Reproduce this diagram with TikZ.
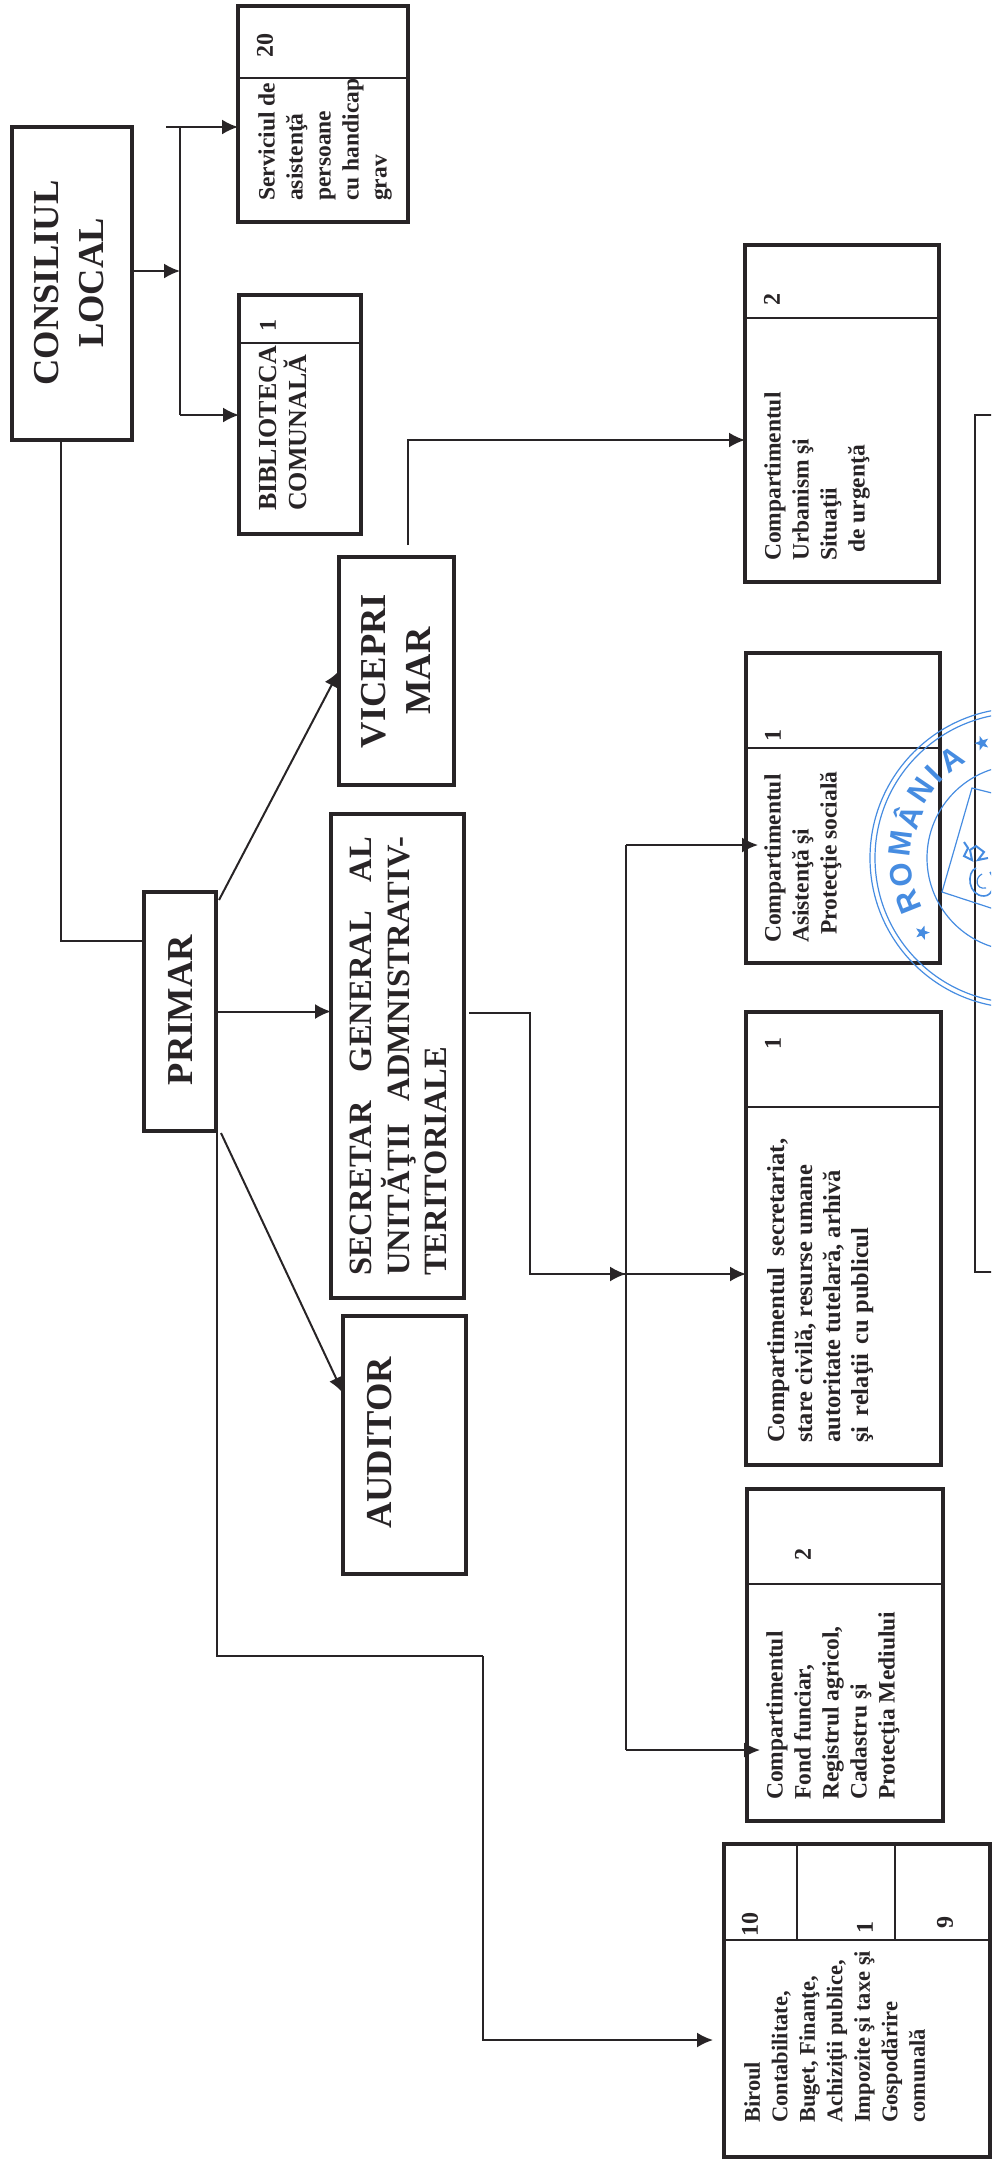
\documentclass[tikz,border=0pt]{standalone}
\usepackage{fontspec}
\setmainfont{Liberation Serif}
\setsansfont{Liberation Sans}
\usetikzlibrary{
  arrows.meta,
  shapes.geometric
}
\definecolor{inkcolor}{RGB}{40,36,38}
\definecolor{stampcolor}{RGB}{70,140,225}
\tikzset{
  unitbox/.style={draw=inkcolor, line width=3.4pt, inner sep=0pt, outer sep=0pt, fill=white},
  titletext/.style={rotate=90, inner sep=0pt, align=center, text=inkcolor, font=\bfseries\fontsize{36.5}{44.5}\selectfont},
  unittext/.style={rotate=90, anchor=north west, inner sep=0pt, align=left, text=inkcolor, font=\bfseries\fontsize{23.5}{28}\selectfont},
  countlabel/.style={rotate=90, inner sep=0pt, text=inkcolor, font=\bfseries\fontsize{24}{27}\selectfont},
  conn/.style={draw=inkcolor, line width=2pt, -{Latex[length=16pt,width=15pt]}},
  plainline/.style={draw=inkcolor, line width=2pt},
  divline/.style={draw=inkcolor, line width=1.6pt},
  stampline/.style={draw=stampcolor, line width=1.2pt},
  stampletter/.style={inner sep=0pt, text=stampcolor, font=\sffamily\bfseries\fontsize{31}{31}\selectfont}
}

\begin{document}
\begin{tikzpicture}[x=1pt, y=-1pt]
  \useasboundingbox (0,0) rectangle (991,2161);

  % boxes
  \node[unitbox, minimum width=120pt, minimum height=313pt] (consiliu) at (72,283.5) {};
  \node[unitbox, minimum width=170pt, minimum height=216pt] (serviciu) at (323,114) {};
  \node[unitbox, minimum width=122pt, minimum height=239pt] (biblioteca) at (300,414.5) {};
  \node[unitbox, minimum width=194pt, minimum height=337pt] (urbanism) at (842,413.5) {};
  \node[unitbox, minimum width=115pt, minimum height=228pt] (vice) at (396.5,671) {};
  \node[unitbox, minimum width=72pt, minimum height=239pt] (primar) at (180,1011.5) {};
  \node[unitbox, minimum width=133pt, minimum height=484pt] (secretar) at (397.5,1056) {};
  \node[unitbox, minimum width=123pt, minimum height=258pt] (auditor) at (404.5,1445) {};
  \node[unitbox, minimum width=194pt, minimum height=310pt] (asistenta) at (843,808) {};
  \node[unitbox, minimum width=195pt, minimum height=453pt] (secretariat) at (843.5,1238.5) {};
  \node[unitbox, minimum width=196pt, minimum height=332pt] (fond) at (845,1655) {};
  \node[unitbox, minimum width=266pt, minimum height=313pt] (birou) at (857,2000.5) {};

  \foreach \b/\y in {serviciu/78,biblioteca/343,urbanism/318,asistenta/748,secretariat/1107,fond/1584,birou/1940} {
      \draw[divline] (\b.west |- 0,\y) -- (\b.east |- 0,\y);
    }
  \draw[divline] (797,1844) -- (797,1940);
  \draw[divline] (895,1844) -- (895,1940);

  % titles
  \node[titletext] (consiliutext) at (69,283) {CONSILIUL\\LOCAL};
  \node[titletext] (vicetext) at (396,671) {VICEPRI\\MAR};
  \node[titletext] (primartext) at (180,1010) {PRIMAR};
  \node[titletext] (auditortext) at (380,1443) {AUDITOR};
  \node[titletext, font=\bfseries\fontsize{32.5}{37.5}\selectfont, anchor=north west] (secretartext) at (350,1276) {\makebox[439pt][s]{SECRETAR\hfill GENERAL\hfill AL}\\
    \makebox[439pt][s]{UNITĂŢII\hfill ADMNISTRATIV-}\\
    \makebox[439pt][l]{TERITORIALE}};

  % unit texts
  \node[unittext] (servicutext) at (258,201) {Serviciul de\\asistenţă\\persoane\\cu handicap\\grav};
  \node[unittext, font=\bfseries\fontsize{26}{30}\selectfont] (bibliotecatext) at (259,511) {BIBLIOTECA\\COMUNALĂ};
  \node[unittext] (urbanismtext) at (764,561) {Compartimentul\\Urbanism şi\\Situaţii\\\hspace*{8pt}de urgenţă};
  \node[unittext] (asistentatext) at (764,943) {Compartimentul\\Asistenţă şi\\\hspace*{8pt}Protecţie socială};
  \node[unittext, font=\bfseries\fontsize{24.5}{28}\selectfont] (secretariattext) at (767,1443) {Compartimentul\hspace{5pt} secretariat,\\stare civilă, resurse umane\\autoritate tutelară, arhivă\\şi\hspace{4pt} relaţii\hspace{4pt} cu publicul};
  \node[unittext] (fondtext) at (766,1800) {Compartimentul\\Fond funciar,\\Registrul agricol,\\Cadastru şi\\Protecţia Mediului};
  \node[unittext, font=\bfseries\fontsize{22.5}{27.5}\selectfont] (biroutext) at (744,2123) {Biroul\\Contabilitate,\\Buget, Finanţe,\\Achiziţii publice,\\Impozite şi taxe şi\\Gospodărire\\comunală};

  \foreach \n/\x/\y/\t in {serviciu/265/45/20,biblioteca/268/325/1,urbanism/772/299/2,asistenta/773/735/1,secretariat/773/1043/1,fond/803/1554/2,biroua/750/1924/10,biroub/865/1927/1,birouc/945/1922/9} {
      \node[countlabel] (count\n) at (\x,\y) {\t};
    }

  % connectors
  \coordinate (topjoin) at (180,127);
  \coordinate (midjoin) at (180,271);
  \coordinate (lowjoin) at (180,415);
  \coordinate (topstub) at (166,127);
  \draw[conn] (consiliu.east |- midjoin) -- (midjoin);
  \draw[plainline] (topjoin) -- (lowjoin);
  \draw[conn] (topstub) -- (serviciu.west |- topstub);
  \draw[conn] (lowjoin) -- (biblioteca.west |- lowjoin);

  \coordinate (viceout) at (408,545);
  \draw[conn] (viceout) |- (urbanism.west |- 0,440);
  \draw[plainline] (consiliu.south -| 61,0) |- (primar.west |- 0,941);

  \draw[conn] (219,900) -- (vice.west);
  \draw[conn] (primar.east) -- (secretar.west |- primar.east);
  \draw[conn] (221,1133) -- (auditor.west |- 0,1393);

  \coordinate (birouturn) at (483,1656);
  \draw[plainline] (217,1131) |- (birouturn);
  \draw[conn] (birouturn) |- (713,2040);

  \coordinate (secretarout) at (469,1013);
  \coordinate (mainjoin) at (626,1274);
  \draw[plainline] (secretarout) -- (530,1013) |- (mainjoin);
  \draw[conn] (530,1274) -- (mainjoin);
  \draw[conn] (mainjoin) -- (secretariat.west |- mainjoin);
  \coordinate (asistentajoin) at (626,845);
  \coordinate (fondjoin) at (626,1750);
  \draw[plainline] (asistentajoin) -- (fondjoin);
  \draw[conn] (asistentajoin) -- (758,845);
  \draw[conn] (fondjoin) -- (760,1750);

  \begin{scope}
    \clip (0,0) rectangle (991,2161);
    % frame at the page edge
    \draw[draw=inkcolor, line width=1.4pt] (1000,415) -| (975,1272) -- (1000,1272);

    % round seal
    \coordinate (stampc) at (1020,858);
    \draw[stampline] (stampc) circle (150pt);
    \draw[stampline] (stampc) circle (145pt);
    \draw[stampline] (stampc) circle (93pt);
    \draw[stampline] (1000,795) -- (972,788) -- (942,892) -- (1000,911);
    \foreach \ch/\a in {R/201.7,O/188,M/173,Â/159.6,N/145.8,I/135.7,A/125} {
        \node[stampletter, rotate=\a-90] at ([shift={(\a:120pt)}]stampc) {\ch};
      }
    \foreach \a/\r in {217.4/123,108.3/121} {
        \node[star, star points=5, star point ratio=2.4, fill=stampcolor, inner sep=0pt, minimum size=15pt, rotate=\a-90] at ([shift={(\a:\r pt)}]stampc) {};
      }
    \draw[stampline, line width=2pt] (964,842) -- (968,848) -- (964,856) -- (972,860) -- (970,850) -- (976,846) -- (984,852) -- (978,860) -- (988,858);
    \draw[stampline, line width=1.6pt] (976,868) .. controls (966,872) and (968,896) .. (984,896) .. controls (994,896) and (996,880) .. (990,872);
    \draw[stampline] (982,874) .. controls (974,878) and (976,890) .. (986,888);
  \end{scope}
\end{tikzpicture}
\end{document}
